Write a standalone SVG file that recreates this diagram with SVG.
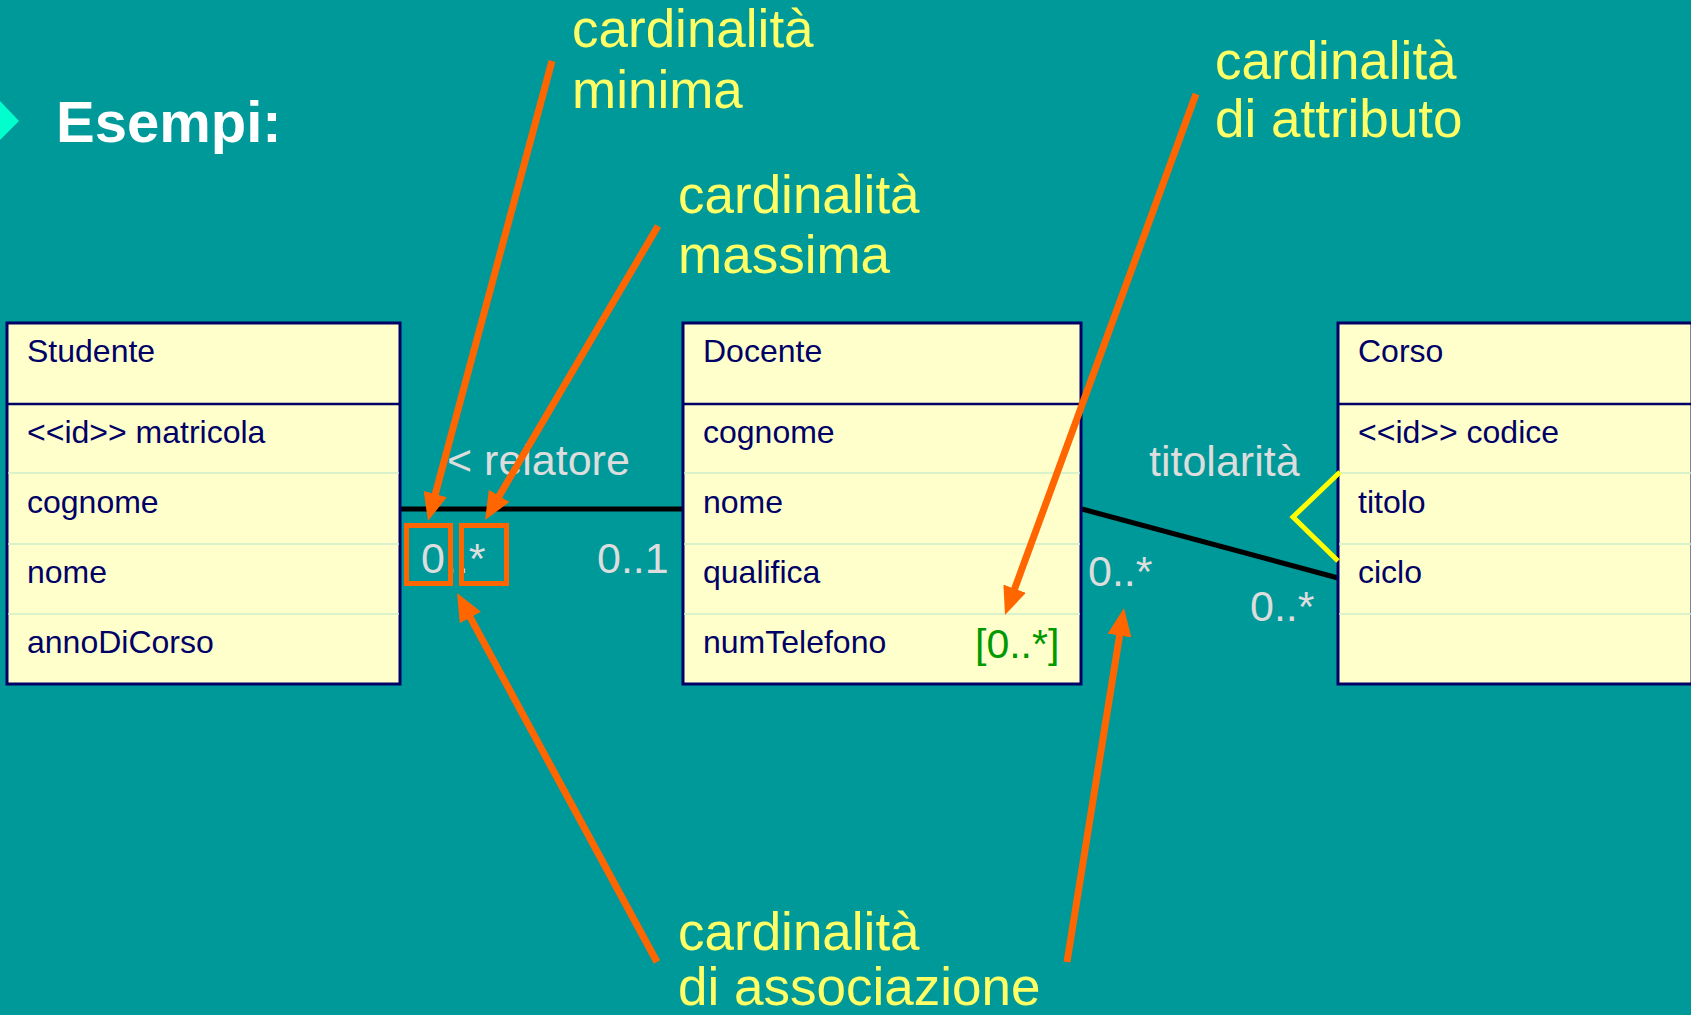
<svg xmlns="http://www.w3.org/2000/svg" width="1691" height="1015" viewBox="0 0 1691 1015">
<style>
text{font-family:"Liberation Sans",Arial,sans-serif}
.box{fill:#FFFFCC;stroke:#000066;stroke-width:3}
.hdr{stroke:#000066;stroke-width:2.5}
.row{stroke:#CCEECC;stroke-width:1.5}
.t{fill:#000066;font-size:32px}
.lbl{fill:#DDDDDD;font-size:43px}
.note{fill:#FFFF66;font-size:53px}
.assoc{stroke:#000000;stroke-width:5;fill:none}
.arr{stroke:#FF6600;stroke-width:7;fill:none;marker-end:url(#ah)}
.hl{stroke:#FF6600;stroke-width:5;fill:none}
</style>
<defs>
<marker id="ah" viewBox="0 0 28 24" refX="6" refY="12" markerWidth="28" markerHeight="24" markerUnits="userSpaceOnUse" orient="auto">
<path d="M0,0 L28,12 L0,24 z" fill="#FF6600"/>
</marker>
</defs>
<rect x="0" y="0" width="1691" height="1015" fill="#009999"/>
<g id="title">
<polygon points="0,101 19,121 0,140" fill="#00FFCC"/>
<text x="56" y="142" style="font-size:58px;font-weight:bold;fill:#FFFFFF">Esempi:</text>
</g>
<g id="connectors">
<line class="assoc" x1="400" y1="509" x2="683" y2="509"/>
<line class="assoc" x1="1082" y1="509" x2="1338" y2="578"/>
</g>
<g id="studente">
<rect class="box" x="7" y="323" width="393" height="361"/>
<line class="hdr" x1="7" y1="404" x2="400" y2="404"/>
<line class="row" x1="8" y1="473" x2="399" y2="473"/>
<line class="row" x1="8" y1="544" x2="399" y2="544"/>
<line class="row" x1="8" y1="614" x2="399" y2="614"/>
<text class="t" x="27" y="362">Studente</text>
<text class="t" x="27" y="443">&lt;&lt;id&gt;&gt; matricola</text>
<text class="t" x="27" y="513">cognome</text>
<text class="t" x="27" y="583">nome</text>
<text class="t" x="27" y="653">annoDiCorso</text>
</g>
<g id="docente">
<rect class="box" x="683" y="323" width="398" height="361"/>
<line class="hdr" x1="683" y1="404" x2="1081" y2="404"/>
<line class="row" x1="684" y1="473" x2="1080" y2="473"/>
<line class="row" x1="684" y1="544" x2="1080" y2="544"/>
<line class="row" x1="684" y1="614" x2="1080" y2="614"/>
<text class="t" x="703" y="362">Docente</text>
<text class="t" x="703" y="443">cognome</text>
<text class="t" x="703" y="513">nome</text>
<text class="t" x="703" y="583">qualifica</text>
<text class="t" x="703" y="653">numTelefono</text>
<text x="975" y="658" style="font-size:41px;fill:#009900">[0..*]</text>
</g>
<g id="corso">
<rect class="box" x="1338" y="323" width="354" height="361"/>
<line class="hdr" x1="1338" y1="404" x2="1691" y2="404"/>
<line class="row" x1="1339" y1="473" x2="1691" y2="473"/>
<line class="row" x1="1339" y1="544" x2="1691" y2="544"/>
<line class="row" x1="1339" y1="614" x2="1691" y2="614"/>
<text class="t" x="1358" y="362">Corso</text>
<text class="t" x="1358" y="443">&lt;&lt;id&gt;&gt; codice</text>
<text class="t" x="1358" y="513">titolo</text>
<text class="t" x="1358" y="583">ciclo</text>
</g>
<g id="labels">
<text class="lbl" x="447" y="475">&lt; relatore</text>
<text class="lbl" x="421" y="573">0..*</text>
<text class="lbl" x="597" y="573">0..1</text>
<text class="lbl" x="1149" y="476">titolarità</text>
<text class="lbl" x="1088" y="586">0..*</text>
<text class="lbl" x="1250" y="621">0..*</text>
</g>
<g id="highlights">
<rect class="hl" x="406.5" y="525.5" width="44" height="58"/>
<rect class="hl" x="461.5" y="525.5" width="45" height="58"/>
<polyline points="1340,472 1293,517 1338,561" fill="none" stroke="#FFFF00" stroke-width="5"/>
</g>
<g id="notes">
<text class="note" x="572" y="47">cardinalità</text>
<text class="note" x="572" y="108">minima</text>
<text class="note" x="678" y="213">cardinalità</text>
<text class="note" x="678" y="273">massima</text>
<text class="note" x="1215" y="79">cardinalità</text>
<text class="note" x="1215" y="137">di attributo</text>
<text class="note" x="678" y="950">cardinalità</text>
<text class="note" x="678" y="1005">di associazione</text>
</g>
<g id="arrows">
<line class="arr" x1="552" y1="61" x2="433.7" y2="499.8"/>
<line class="arr" x1="658" y1="226" x2="496.2" y2="501.0"/>
<line class="arr" x1="1196" y1="94" x2="1012.6" y2="594.3"/>
<line class="arr" x1="657" y1="962" x2="467.5" y2="612.3"/>
<line class="arr" x1="1067" y1="962" x2="1120.5" y2="629.7"/>
</g>
</svg>
